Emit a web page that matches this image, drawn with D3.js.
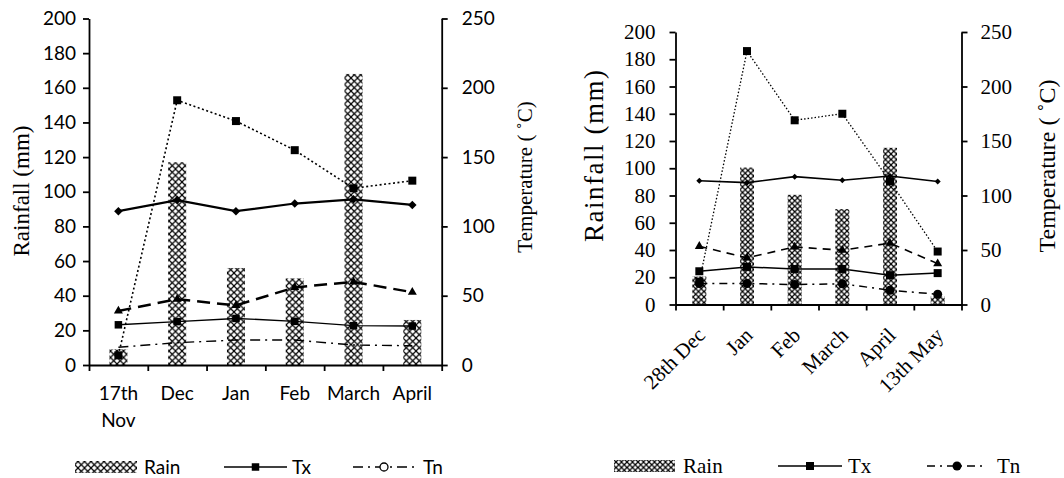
<!DOCTYPE html>
<html>
<head>
<meta charset="utf-8">
<script src="https://cdn.jsdelivr.net/npm/d3@7"></script>
<style>
  body { margin: 0; background: #fff; }
  svg { display: block; }
</style>
</head>
<body>
<svg id="chart" width="1064" height="478"></svg>
<script>
// ---- data: rain in mm (left axis), other series in right-axis units ----
const leftMonths = ["17th Nov", "Dec", "Jan", "Feb", "March", "April"];
const leftRain = [9, 117, 56, 50, 168, 26];
const leftDotted = [7, 191, 176, 155, 127.5, 133];
const leftDiamond = [111, 119, 111, 116.5, 119.5, 115.5];
const leftTriangle = [39, 47.5, 43, 56, 60, 52.5];
const leftTx = [29, 31.3, 33.6, 31.5, 28.4, 28.1];
const leftTn = [12.8, 16.1, 18, 18, 14.4, 13.9];

const rightMonths = ["28th Dec", "Jan", "Feb", "March", "April", "13th May"];
const rightRain = [20.5, 100.5, 80.5, 70, 115, 6];
const rightDotted = [21, 232.5, 169, 175, 113, 48.6];
const rightDiamond = [113.5, 111.8, 117.3, 114, 117.9, 112.8];
const rightTriangle = [53.4, 42.8, 52.8, 49.8, 56.3, 37.5];
const rightTx = [30.5, 34.5, 32.6, 32.6, 26.9, 28.8];
const rightTn = [19.3, 19.3, 18.3, 19, 13.1, 9.4];

const rainTicks = d3.range(0, 201, 20);
const tempTicks = d3.range(0, 251, 50);
const legendNames = ["Rain", "Tx", "Tn"];

const SANS = "Lato, 'Open Sans', sans-serif";
const SERIF = "'Liberation Serif', 'DejaVu Serif', serif";

const svg = d3.select("#chart");
const defs = svg.append("defs");

// cross hatch used for the rain bars
function addHatch(id, size) {
  const p = defs.append("pattern")
    .attr("id", id)
    .attr("patternUnits", "userSpaceOnUse")
    .attr("width", size)
    .attr("height", size);
  p.append("rect").attr("width", size).attr("height", size).attr("fill", "#fff");
  p.append("path")
    .attr("d", `M0,0L${size},${size}M${size},0L0,${size}`)
    .attr("stroke", "#000")
    .attr("stroke-width", 1.2);
}
addHatch("hatchL", 6.5);
addHatch("hatchR", 5.5);

function markerPath(type, size) {
  if (type === "square") return d3.symbol(d3.symbolSquare, size * size)();
  if (type === "diamond") return d3.symbol(d3.symbolSquare, size * size / 2)();
  if (type === "triangle") return d3.symbol(d3.symbolTriangle, 0.433 * size * size)();
  if (type === "circle") return d3.symbol(d3.symbolCircle, Math.PI * size * size / 4)();
  return null;
}

function drawPanel(p) {
  const g = svg.append("g");
  const x = d3.scaleBand().domain(p.months).range([p.x0, p.x1]);
  const xEdge = d3.scaleLinear().domain([0, p.months.length]).range([p.x0, p.x1]);
  const yRain = d3.scaleLinear().domain([0, 200]).range([p.yBot, p.yTop]);
  const yTemp = d3.scaleLinear().domain([0, 250]).range([p.yBot, p.yTop]);
  const cx = (i) => x(p.months[i]) + x.bandwidth() / 2;

  // rain bars
  g.append("g")
    .selectAll("rect")
    .data(p.rain)
    .join("rect")
    .attr("x", (d, i) => cx(i) - p.barW / 2)
    .attr("y", (d) => yRain(d))
    .attr("width", p.barW)
    .attr("height", (d) => yRain(0) - yRain(d))
    .attr("fill", `url(#${p.hatch})`);

  // axes
  const axisStyle = (sel, font, size) => {
    sel.selectAll("path, line").attr("stroke", "#000").attr("stroke-width", p.axisW);
    sel.selectAll("text").attr("font-family", font).attr("font-size", size).attr("fill", "#000");
  };
  g.append("g")
    .attr("transform", `translate(${p.x0},0)`)
    .call(d3.axisLeft(yRain).tickValues(rainTicks).tickSize(p.tickL).tickSizeOuter(0).tickPadding(p.padL))
    .call(axisStyle, p.tickFont, p.tickSize);
  g.append("g")
    .attr("transform", `translate(${p.x1},0)`)
    .call(d3.axisRight(yTemp).tickValues(tempTicks).tickSize(p.tickR).tickSizeOuter(0).tickPadding(p.padR))
    .call(axisStyle, p.tickFont, p.tickSize);
  g.append("g")
    .attr("transform", `translate(0,${p.yBot})`)
    .call(d3.axisBottom(xEdge).tickValues(d3.range(p.months.length + 1)).tickFormat("").tickSize(6).tickSizeOuter(0))
    .call(axisStyle, p.tickFont, p.tickSize);

  // category labels
  const lab = g.append("g")
    .attr("font-family", p.tickFont)
    .attr("font-size", p.tickSize);
  if (p.rotate) {
    lab.selectAll("text")
      .data(p.months)
      .join("text")
      .attr("text-anchor", "end")
      .attr("transform", (d, i) => `translate(${cx(i) + 7},${p.yBot + 32}) rotate(-45)`)
      .text((d) => d);
  } else {
    lab.selectAll("text")
      .data(p.months)
      .join("text")
      .attr("text-anchor", "middle")
      .attr("x", (d, i) => cx(i))
      .attr("y", p.yBot + 35)
      .each(function (d, i) {
        const words = d.split(" ");
        d3.select(this)
          .selectAll("tspan")
          .data(words)
          .join("tspan")
          .attr("x", cx(i))
          .attr("dy", (w, j) => (j === 0 ? 0 : 27))
          .text((w) => w);
      });
  }

  // line series
  p.series.forEach((s) => {
    const line = d3.line()
      .x((d, i) => cx(i))
      .y((d) => yTemp(d));
    g.append("path")
      .datum(s.values)
      .attr("d", line)
      .attr("fill", "none")
      .attr("stroke", "#000")
      .attr("stroke-width", s.width)
      .attr("stroke-dasharray", s.dash);
    if (s.marker) {
      g.append("g")
        .selectAll("path")
        .data(s.values)
        .join("path")
        .attr("d", markerPath(s.marker, s.size))
        .attr("transform", (d, i) => `translate(${cx(i)},${yTemp(d)})${s.marker === "diamond" ? " rotate(45)" : ""}`)
        .attr("fill", "#000");
    }
  });

  // axis titles
  const title = (tx, ty, size, len, txt) => {
    const t = g.append("text")
      .attr("transform", `translate(${tx},${ty}) rotate(-90)`)
      .attr("text-anchor", "middle")
      .attr("dominant-baseline", "central")
      .attr("font-family", SERIF)
      .attr("font-size", size)
      .text(txt);
    if (len) t.attr("textLength", len).attr("lengthAdjust", "spacing");
  };
  title(p.rainTitle[0], p.rainTitle[1], p.rainTitle[2], p.rainTitle[3], "Rainfall (mm)");
  title(p.tempTitle[0], p.tempTitle[1], p.tempTitle[2], p.tempTitle[3], "Temperature ( \u02DAC)");

  // legend
  const L = p.legend;
  const lg = g.append("g").attr("font-family", p.legendFont).attr("font-size", p.legendSize);
  lg.append("rect")
    .attr("x", L.rain[0]).attr("y", L.y - 6)
    .attr("width", L.rain[1] - L.rain[0]).attr("height", 12)
    .attr("fill", `url(#${p.hatch})`);
  lg.append("text").attr("x", L.rain[2]).attr("y", L.y + 7).text(legendNames[0]);

  const tx = p.series.find((s) => s.name === "Tx");
  const tn = p.series.find((s) => s.name === "Tn");
  [[tx, L.tx], [tn, L.tn]].forEach(([s, pos], k) => {
    lg.append("line")
      .attr("x1", pos[0]).attr("x2", pos[1])
      .attr("y1", L.y).attr("y2", L.y)
      .attr("stroke", "#000")
      .attr("stroke-width", s.width)
      .attr("stroke-dasharray", s.dash);
    const mk = s.marker || p.tnLegendMarker;
    lg.append("path")
      .attr("d", markerPath(mk, s.size || 8))
      .attr("transform", `translate(${(pos[0] + pos[1]) / 2},${L.y})`)
      .attr("fill", s.marker ? "#000" : "#fff")
      .attr("stroke", s.marker ? "none" : "#000")
      .attr("stroke-width", 1.3);
    lg.append("text").attr("x", pos[2]).attr("y", L.y + 7).text(legendNames[k + 1]);
  });
}

drawPanel({
  months: leftMonths,
  rain: leftRain,
  x0: 89, x1: 441.7, yTop: 18.5, yBot: 365,
  barW: 18, hatch: "hatchL", axisW: 1.8,
  tickFont: SANS, tickSize: 19, tickL: 6, padL: 7, tickR: 6, padR: 14,
  rainTitle: [21, 191, 23, null], tempTitle: [525, 177, 21, null],
  rotate: false,
  legendFont: SANS, legendSize: 19,
  tnLegendMarker: "circle",
  legend: { y: 467, rain: [75, 137, 144], tx: [224, 287, 292], tn: [353, 415, 423] },
  series: [
    { name: "dotted", values: leftDotted, width: 1.6, dash: "2,2.5", marker: "square", size: 8 },
    { name: "diamond", values: leftDiamond, width: 2.2, dash: null, marker: "diamond", size: 8.5 },
    { name: "triangle", values: leftTriangle, width: 2.5, dash: "13,7", marker: "triangle", size: 9 },
    { name: "Tx", values: leftTx, width: 1.4, dash: null, marker: "square", size: 7.5 },
    { name: "Tn", values: leftTn, width: 1.4, dash: "10,5,2,5", marker: null, size: 8 }
  ]
});

drawPanel({
  months: rightMonths,
  rain: rightRain,
  x0: 675.5, x1: 961.5, yTop: 32, yBot: 304.5,
  barW: 14, hatch: "hatchR", axisW: 1.8,
  tickFont: SERIF, tickSize: 21, tickL: 6, padL: 14, tickR: 6, padR: 13,
  rainTitle: [594, 156, 27, 172], tempTitle: [1047, 166, 24, 173],
  rotate: true,
  legendFont: SERIF, legendSize: 21,
  tnLegendMarker: "circle",
  legend: { y: 466, rain: [614, 675, 683], tx: [778, 842, 848], tn: [927, 987, 997] },
  series: [
    { name: "dotted", values: rightDotted, width: 1.3, dash: "1.5,2", marker: "square", size: 8 },
    { name: "diamond", values: rightDiamond, width: 1.6, dash: null, marker: "diamond", size: 6 },
    { name: "triangle", values: rightTriangle, width: 1.6, dash: "8,6", marker: "triangle", size: 9 },
    { name: "Tx", values: rightTx, width: 1.5, dash: null, marker: "square", size: 8 },
    { name: "Tn", values: rightTn, width: 1.5, dash: "8,5,2,5", marker: "circle", size: 9 }
  ]
});
</script>
</body>
</html>
